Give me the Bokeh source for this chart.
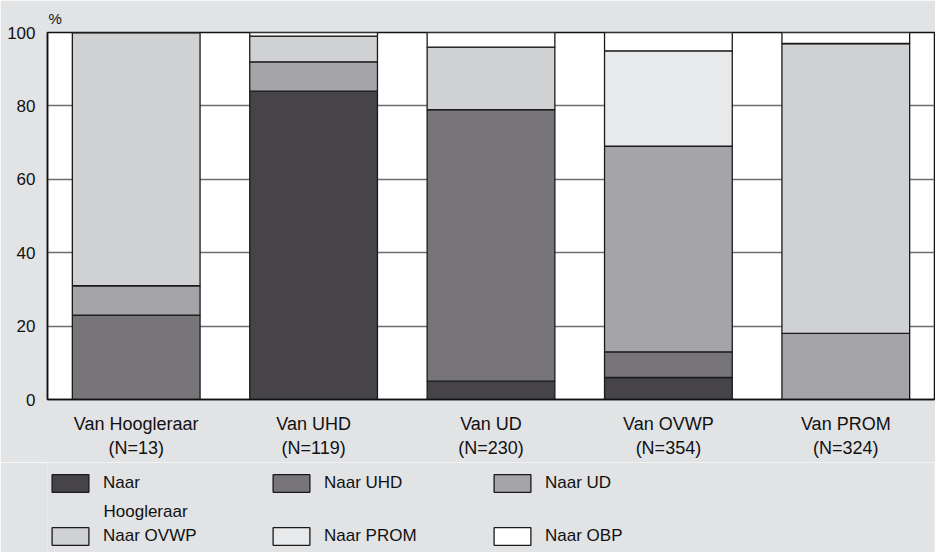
from bokeh.plotting import figure
from bokeh.models import FactorRange, Range1d, FixedTicker, Legend, LegendItem, Title, Label
from bokeh.layouts import column
from bokeh.embed import file_html
from bokeh.resources import INLINE

categories = ["Van Hoogleraar\n(N=13)", "Van UHD\n(N=119)", "Van UD\n(N=230)",
              "Van OVWP\n(N=354)", "Van PROM\n(N=324)"]
series = ["Naar Hoogleraar", "Naar UHD", "Naar UD", "Naar OVWP", "Naar PROM", "Naar OBP"]
legend_labels = ["Naar\nHoogleraar", "Naar UHD", "Naar UD", "Naar OVWP", "Naar PROM", "Naar OBP"]
naar_hoogleraar = [0, 84, 5, 6, 0]
naar_uhd = [23, 0, 74, 7, 0]
naar_ud = [8, 8, 0, 56, 18]
naar_ovwp = [69, 7, 17, 0, 79]
naar_prom = [0, 0, 0, 26, 0]
naar_obp = [0, 1, 4, 5, 3]
y_ticks = [0, 20, 40, 60, 80, 100]
colors = ["#464349", "#777579", "#a5a4a8", "#d0d1d3", "#e8e9ea", "#ffffff"]

data = dict(cat=categories)
for name, vals in zip(series, [naar_hoogleraar, naar_uhd, naar_ud, naar_ovwp, naar_prom, naar_obp]):
    data[name] = vals

FONT = "Liberation Sans"
BG = "#e2e3e5"
W = 935
H_MAIN = 462
H_LEG = 90

p = figure(width=W, height=H_MAIN, output_backend="svg", toolbar_location=None,
           x_range=FactorRange(*categories, range_padding=0),
           y_range=Range1d(0, 100),
           min_border_left=47, min_border_right=1, min_border_top=32, min_border_bottom=63)
p.border_fill_color = BG
p.background_fill_color = "white"
p.outline_line_color = "#111111"
p.outline_line_width = 1.5

renderers = p.vbar_stack(series, x="cat", width=0.72, source=data, color=colors,
                         line_color="#1a1a1a", line_width=1.3)

p.xgrid.visible = False
p.ygrid.grid_line_color = "#6e6e6e"
p.ygrid.grid_line_width = 1.3
p.yaxis.ticker = FixedTicker(ticks=y_ticks)
p.yaxis.major_tick_line_color = None
p.yaxis.minor_tick_line_color = None
p.yaxis.axis_line_color = "#111111"
p.yaxis.axis_line_width = 1.5
p.yaxis.major_label_standoff = 6
p.yaxis.major_label_text_font_size = "17px"
p.xaxis.major_tick_line_color = None
p.xaxis.axis_line_color = "#111111"
p.xaxis.axis_line_width = 1.5
p.xaxis.major_label_standoff = 8
p.xaxis.major_label_text_font_size = "18px"
for ax in (p.xaxis, p.yaxis):
    ax.major_label_text_font = FONT
    ax.major_label_text_color = "#111111"

pct = Title(text="%", align="left", offset=1, standoff=11, text_font=FONT,
            text_font_size="15px", text_font_style="normal", text_color="#111111")
p.add_layout(pct, "above")

# legend panel: the same stacked bars, hidden, used only as legend swatches
q = figure(width=W, height=H_LEG, output_backend="svg", toolbar_location=None,
           x_axis_location=None, y_axis_location=None,
           x_range=FactorRange(*categories, range_padding=0), y_range=Range1d(0, 100),
           min_border_left=47, min_border_right=0, min_border_top=0, min_border_bottom=0)
q.border_fill_color = BG
q.background_fill_color = BG
q.outline_line_color = None
q.grid.visible = False
leg_renderers = q.vbar_stack(series, x="cat", width=0.72, source=data, color=colors,
                             line_color="#1a1a1a", line_width=1.3)
for r in leg_renderers:
    r.visible = False
first_lines = [lab.split("\n")[0] for lab in legend_labels]
items = [LegendItem(label=lab, renderers=[r]) for lab, r in zip(first_lines, leg_renderers)]
legend = Legend(items=items, ncols=3, location=(0, 5), orientation="horizontal",
                glyph_width=46, glyph_height=22, label_standoff=10, label_width=134,
                spacing=31, padding=0, margin=0, click_policy="none",
                inactive_fill_alpha=0,
                label_text_font=FONT, label_text_font_size="17px", label_text_color="#111111",
                background_fill_alpha=0, border_line_alpha=0)
q.add_layout(legend, "center")
# second line of the wrapped first legend label
second_line = legend_labels[0].split("\n")[1]
q.add_layout(Label(x=56, y=41, x_units="screen", y_units="screen", text=second_line,
                   text_font=FONT, text_font_size="17px", text_color="#111111",
                   text_baseline="alphabetic", text_align="left"))

layout = column(p, q, spacing=0)
open("out.html", "w").write(file_html(layout, INLINE))
